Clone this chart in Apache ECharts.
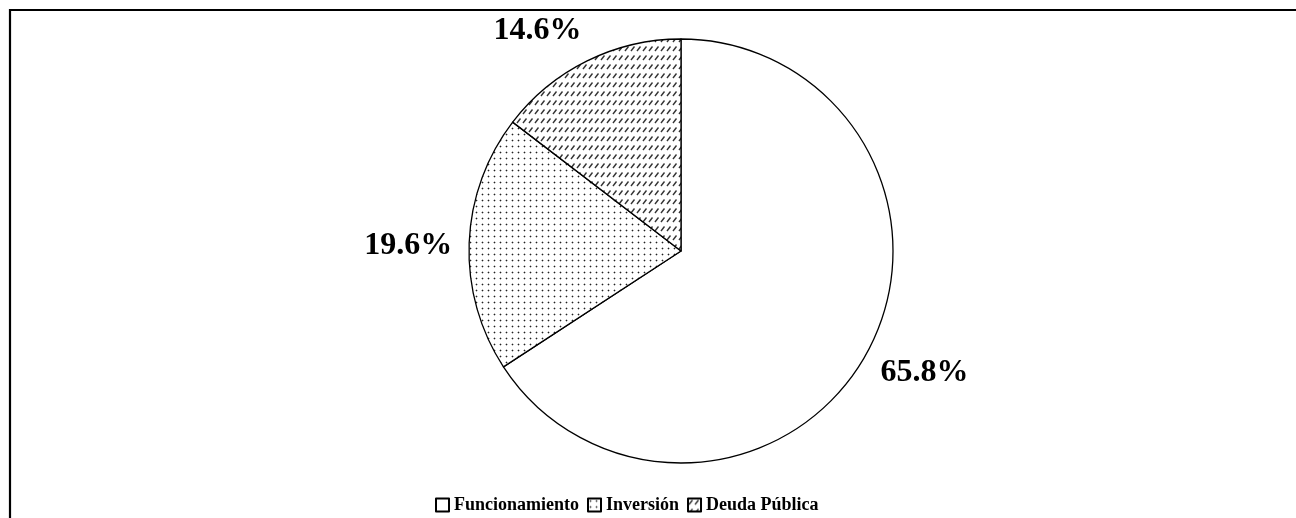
<!DOCTYPE html>
<html>
<head>
<meta charset="utf-8">
<script src="https://cdn.jsdelivr.net/npm/echarts@6/dist/echarts.min.js"></script>
<style>
html,body{margin:0;padding:0;background:#fff;}
#chart{width:1296px;height:518px;}
</style>
</head>
<body>
<div id="chart"></div>
<script>
const categories = ['Funcionamiento', 'Inversión', 'Deuda Pública'];
const values = [65.8, 19.6, 14.6];
const labelTexts = ['65.8%', '19.6%', '14.6%'];

function makeDots() {
  const c = document.createElement('canvas');
  c.width = 6; c.height = 6;
  const g = c.getContext('2d');
  g.fillStyle = '#fff'; g.fillRect(0, 0, 6, 6);
  g.fillStyle = '#bbb'; g.fillRect(1, 2, 3, 1); g.fillRect(2, 1, 1, 3);
  g.fillStyle = '#222'; g.fillRect(2, 2, 1, 1);
  return c;
}
function makeHatch() {
  const c = document.createElement('canvas');
  c.width = 6; c.height = 9;
  const g = c.getContext('2d');
  g.fillStyle = '#fff'; g.fillRect(0, 0, 6, 9);
  g.strokeStyle = '#333'; g.lineWidth = 1.4;
  g.beginPath(); g.moveTo(1, 6); g.lineTo(4.5, 1.5); g.stroke();
  return c;
}
const fills = [
  '#ffffff',
  { image: makeDots(), repeat: 'repeat' },
  { image: makeHatch(), repeat: 'repeat' }
];
const labelShift = [[-5, 14], [3, 3], [6, -17]];

const chart = echarts.init(document.getElementById('chart'), null, { renderer: 'canvas' });
chart.setOption({
  animation: false,
  backgroundColor: '#fff',
  graphic: [{
    type: 'rect', silent: true,
    shape: { x: 10, y: 10, width: 1400, height: 700 },
    style: { fill: 'none', stroke: '#000', lineWidth: 2.2 }
  }],
  legend: {
    left: 430, top: 491,
    itemWidth: 13, itemHeight: 13, itemGap: 8,
    icon: 'rect',
    textStyle: { fontFamily: 'Liberation Serif', fontWeight: 'bold', fontSize: 18, color: '#000', padding: [0, 0, 0, 0] },
    data: categories
  },
  series: [{
    type: 'pie',
    center: [681, 251],
    radius: [0, 212],
    startAngle: 90,
    clockwise: true,
    avoidLabelOverlap: false,
    itemStyle: { borderColor: '#000', borderWidth: 1.3 },
    label: {
      show: true, position: 'outside',
      fontFamily: 'Liberation Serif', fontWeight: 'bold', fontSize: 32, color: '#000',
      formatter: p => labelTexts[p.dataIndex]
    },
    labelLine: { show: false, length: 15, length2: 0 },
    labelLayout: p => ({ dx: labelShift[p.dataIndex][0], dy: labelShift[p.dataIndex][1] }),
    emphasis: { disabled: true },
    data: categories.map((n, i) => ({ name: n, value: values[i], itemStyle: { color: fills[i] } }))
  }]
});
</script>
</body>
</html>
